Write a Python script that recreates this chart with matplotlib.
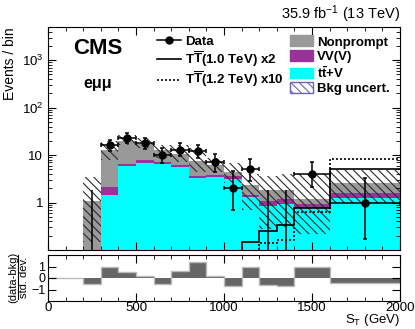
import numpy as np
import matplotlib
matplotlib.use("Agg")
import matplotlib.pyplot as plt
from matplotlib.lines import Line2D
from matplotlib.patches import Patch
from matplotlib.ticker import MultipleLocator, LogLocator, FuncFormatter, NullFormatter, FixedLocator

plt.rcParams['font.family'] = 'Liberation Sans'
plt.rcParams['mathtext.fontset'] = 'custom'
plt.rcParams['mathtext.rm'] = 'Liberation Sans'
plt.rcParams['mathtext.bf'] = 'Liberation Sans:bold'
plt.rcParams['mathtext.it'] = 'Liberation Sans:italic'
plt.rcParams['hatch.linewidth'] = 0.8

# bins in S_T (GeV)
edges = [200, 300, 400, 500, 600, 700, 800, 900, 1000, 1100, 1200, 1300, 1400, 1600, 2000]

# backgrounds (stacked: ttV, VV(V), nonprompt)
ttv = [0, 1.47, 5.8, 6.9, 6.5, 5.6, 3.3, 3.5, 3.15, 1.32, 0.84, 0.94, 0.77, 1.25]
vv = [0, 0.63, 0.7, 0.9, 0.6, 0.7, 0.3, 0.3, 0.55, 0.15, 0.23, 0.22, 0.17, 0.35]
nonprompt = [1.1, 10.4, 13.5, 9.7, 5.4, 4.2, 3.9, 2.5, 0.6, 0.83, 0.73, 0.64, 0.26, 1.0]

# background uncertainty band
unc_lo = [0.15, 7.7, 16.0, 14.0, 8.7, 7.0, 4.5, 4.5, 2.6, 0.7, 0.28, 0.3, 0.22, 1.0]
unc_hi = [3.4, 19.5, 26, 23, 16.1, 16.6, 14.2, 8.7, 6.8, 3.9, 3.6, 3.9, 3.9, 4.95]

# data with poisson intervals
data = [0, 16, 23, 18, 10, 13, 12, 7, 2, 5, 0, 0, 4, 1]
data_lo = [0, 12.0, 18.3, 13.6, 6.9, 9.4, 8.6, 4.42, 0.71, 2.84, 0, 0, 2.08, 0.17]
data_hi = [1.84, 21.1, 28.9, 23.3, 14.3, 17.8, 16.6, 10.77, 4.64, 8.38, 1.84, 1.84, 7.16, 3.30]

# signals
sig_10 = [0, 0, 0, 0, 0, 0, 0, 0, 0, 0.15, 0.25, 0.34, 0.77, 5.1]   # TT 1.0 TeV x2
sig_12 = [0, 0, 0, 0, 0, 0, 0, 0, 0, 0, 0.14, 0.16, 0.62, 8.3]      # TT 1.2 TeV x10

# pull panel
pull_edges = [0] + edges
pull = [0, -0.5, 0.92, 0.54, 0.2, -0.52, 0.63, 1.4, 0.2, -0.69, 0.92, -0.58, -0.69, 0.97, -0.46]

FLOOR = 1e-3

e = np.array(edges, dtype=float)
centers = (e[:-1] + e[1:]) / 2
halfw = (e[1:] - e[:-1]) / 2

fig = plt.figure(figsize=(4.15, 3.29), dpi=100)
ax = fig.add_axes([48/415, 1 - 250/329, 352/415, 223/329])
ax2 = fig.add_axes([48/415, 1 - 301/329, 352/415, 46/329])

# stack
c1 = np.array(ttv)
c2 = c1 + np.array(vv)
c3 = c2 + np.array(nonprompt)
ax.stairs(np.clip(c3, FLOOR, None), edges, baseline=FLOOR, fill=True, color='#999999', lw=0)
ax.stairs(np.clip(c2, FLOOR, None), edges, baseline=FLOOR, fill=True, color='#993399', lw=0)
ax.stairs(np.clip(c1, FLOOR, None), edges, baseline=FLOOR, fill=True, color='#00ffff', lw=0)

# uncertainty band
ax.stairs(unc_hi, edges, baseline=unc_lo, fill=True, facecolor='none',
          edgecolor='#2a2a2a', hatch='\\\\\\\\', lw=0)

# signals
ax.stairs(np.clip(sig_10, FLOOR, None), edges, baseline=None, color='black', lw=1.2)
ax.stairs(np.clip(sig_12, FLOOR, None), edges, baseline=None, color='black', lw=1.2, ls=(0, (1.2, 1.2)))

# data
d = np.array(data, dtype=float)
pos = d > 0
yerr = np.vstack([d - np.array(data_lo), np.array(data_hi) - d])
ax.errorbar(centers[pos], d[pos], xerr=halfw[pos], yerr=yerr[:, pos], fmt='o', color='black',
            ms=5, lw=1.1, capsize=1.5, capthick=1.1, zorder=5)
ax.vlines(centers[~pos], FLOOR, np.array(data_hi)[~pos], color='black', lw=1.1, zorder=5)

ax.set_xlim(0, 2000)
ax.set_ylim(0.1, 5000)
ax.set_yscale('log')
ax.yaxis.set_major_locator(FixedLocator([1, 10, 100, 1000]))
ax.yaxis.set_major_formatter(FuncFormatter(lambda v, p: {1: '1', 10: '10', 100: '10$^2$', 1000: '10$^3$'}.get(int(round(v)), '')))
ax.yaxis.set_minor_locator(LogLocator(base=10, subs=np.arange(2, 10), numticks=20))
ax.yaxis.set_minor_formatter(NullFormatter())
ax.xaxis.set_major_locator(MultipleLocator(500))
ax.xaxis.set_minor_locator(MultipleLocator(100))
ax.tick_params(which='both', direction='in', top=True, right=True, labelbottom=False, labelsize=9.5)
ax.tick_params(which='major', length=6, width=0.8)
ax.tick_params(which='minor', length=3, width=0.6)
ax.set_ylabel('Events / bin', fontsize=10, loc='top')
ax.yaxis.set_label_coords(-0.088, 1.0)

ax.text(0.07, 0.905, 'CMS', transform=ax.transAxes, fontsize=16, fontweight='bold', va='center')
ax.text(0.10, 0.745, 'eμμ', transform=ax.transAxes, fontsize=11.5, fontweight='bold', va='center')
fig.text(400/415, 1 - 14/329, '35.9 fb$^{-1}$ (13 TeV)', ha='right', va='center', fontsize=10.5)

# legends
h1 = [Line2D([], [], color='black', marker='o', ms=5, lw=1.1),
      Line2D([], [], color='black', lw=1.2),
      Line2D([], [], color='black', lw=1.2, ls=(0, (1.2, 1.2)))]
l1 = [r'Data', r'$\mathbf{T\overline{T}}$(1.0 TeV) x2', r'$\mathbf{T\overline{T}}$(1.2 TeV) x10']
leg1 = ax.legend(h1, l1, loc='upper left', bbox_to_anchor=(0.31, 0.962), frameon=False,
                 prop={'weight': 'bold', 'size': 9.5}, handlelength=1.8, handletextpad=0.35,
                 labelspacing=0.12, borderaxespad=0, borderpad=0)
ax.add_artist(leg1)
h2 = [Patch(facecolor='#999999', edgecolor='#999999'),
      Patch(facecolor='#993399', edgecolor='#993399'),
      Patch(facecolor='#00ffff', edgecolor='#00ffff'),
      Patch(facecolor='white', edgecolor='#6666bb', hatch='\\\\\\\\')]
l2 = ['Nonprompt', 'VV(V)', r'$\mathbf{t\bar{t}}$+V', 'Bkg uncert.']
ax.legend(h2, l2, loc='upper left', bbox_to_anchor=(0.688, 0.962), frameon=False,
          prop={'weight': 'bold', 'size': 9.5}, handlelength=1.7, handleheight=0.9,
          handletextpad=0.35, labelspacing=0.12, borderaxespad=0, borderpad=0)

# pull panel
ax2.stairs(pull, pull_edges, baseline=0, fill=True, color='#666666', lw=0)
ax2.stairs(pull, pull_edges, baseline=None, color='#bbbbbb', lw=1.0)
ax2.set_xlim(0, 2000)
ax2.set_ylim(-2, 2)
ax2.yaxis.set_major_locator(FixedLocator([-1, 0, 1]))
ax2.yaxis.set_major_formatter(FuncFormatter(lambda v, p: {-1: '\u22121', 0: '0', 1: '1'}[int(round(v))]))
ax2.xaxis.set_major_locator(MultipleLocator(500))
ax2.xaxis.set_minor_locator(MultipleLocator(100))
ax2.tick_params(which='both', direction='in', top=True, right=True, labelsize=9.5)
ax2.tick_params(axis='x', pad=0.5)
ax2.tick_params(axis='y', pad=2, labelsize=9)
ax2.tick_params(which='major', length=6, width=0.8)
ax2.tick_params(which='minor', length=3, width=0.6)
ax2.set_xlabel(r'S$_\mathrm{T}$ (GeV)', fontsize=9.5, loc='right')
ax2.xaxis.set_label_coords(1.0, -0.25)
ax2.xaxis.label.set_va('top')

# fraction-style label for the pull panel
fig.text(13/415, 1 - 277/329, '(data-bkg)', rotation=90, ha='center', va='center', fontsize=8)
fig.text(23.5/415, 1 - 277/329, 'std. dev.', rotation=90, ha='center', va='center', fontsize=8)
fig.add_artist(Line2D([18.3/415, 18.3/415], [1 - 299/329, 1 - 255/329], color='black', lw=0.8))

fig.savefig('out.png', dpi=100)
